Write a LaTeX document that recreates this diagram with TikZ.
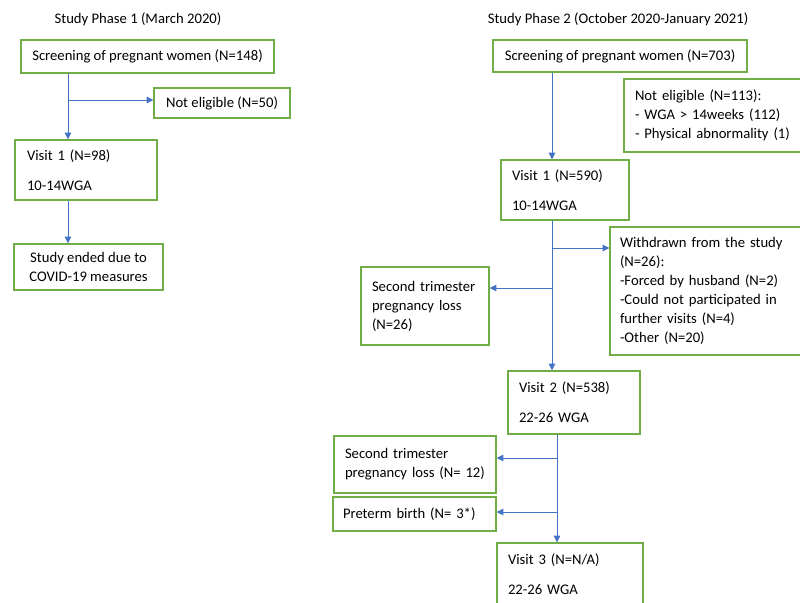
\documentclass[tikz,border=0pt]{standalone}
\usepackage{fontspec}
\setmainfont{Carlito}
\usepackage{xcolor}
\usetikzlibrary{arrows.meta}
\definecolor{boxgreen}{HTML}{70AD47}
\definecolor{flowblue}{HTML}{4472C4}

\begin{document}
\begin{tikzpicture}[
    x=0.75pt, y=-0.75pt,
    font=\fontsize{11}{14.25}\selectfont,
    box/.style={rectangle, draw=boxgreen, line width=1.1pt, inner sep=0pt, align=center},
    lbox/.style={box, align=left, inner xsep=8.25pt},
    arrow/.style={-{Triangle[width=5pt,length=5pt]}, draw=flowblue, fill=flowblue, line width=0.7pt},
    title/.style={inner sep=0pt}
  ]
  \clip (0,0) rectangle (800,603);
  % Phase 1
  \node[title] (t1) at (138,19) {Study Phase 1 (March 2020)};
  \node[box, minimum width=189.75pt, minimum height=24.75pt] (scr1) at (147.5,56.5) {Screening of pregnant women (N=148)};
  \node[box, minimum width=102pt, minimum height=22.5pt] (ne1) at (222,103) {Not eligible (N=50)};
  \node[lbox, text width=88.5pt, minimum height=45pt, inner xsep=9pt] (v1) at (86,170) {Visit 1 (N=98)\\[8.25pt]10-14WGA};
  \node[box, minimum width=111.75pt, minimum height=34.5pt] (end1) at (88.5,267) {Study ended due to\\COVID-19 measures};
  \coordinate (tk1) at (68,100);
  \draw[arrow] (scr1.south -| tk1) -- (v1.north -| tk1);
  \draw[arrow] (tk1) -- (tk1 -| ne1.west);
  \draw[arrow] (v1.south -| tk1) -- (end1.north -| tk1);
  % Phase 2
  \node[title] (t2) at (618,19) {Study Phase 2 (October 2020-January 2021)};
  \node[box, minimum width=190.5pt, minimum height=24pt] (scr2) at (620,56) {Screening of pregnant women (N=703)};
  \node[lbox, text width=120pt, minimum height=54.75pt] (ne2) at (715,115.5) {Not eligible (N=113):\\- WGA > 14weeks (112)\\- Physical abnormality (1)};
  \node[lbox, text width=79.5pt, minimum height=45pt] (v2a) at (565,190) {Visit 1 (N=590)\\[8.25pt]10-14WGA};
  \node[lbox, text width=135pt, minimum height=96pt, inner xsep=7.5pt] (wd) at (710,291) {Withdrawn from the study\\(N=26):\\-Forced by husband (N=2)\\-Could not participated in\\further visits (N=4)\\-Other (N=20)};
  \node[lbox, text width=79.5pt, minimum height=58.5pt] (sl1) at (425,306) {Second trimester\\pregnancy loss\\(N=26)};
  \node[lbox, text width=82.5pt, minimum height=47.25pt] (v2) at (574,402.5) {Visit 2 (N=538)\\[8.25pt]22-26 WGA};
  \node[lbox, text width=105pt, minimum height=42.75pt] (sl2) at (415,464.5) {Second trimester\\pregnancy loss (N= 12)};
  \node[lbox, text width=107.25pt, minimum height=25.5pt, inner xsep=7.5pt] (pb) at (414.5,514) {Preterm birth (N= 3*)};
  \node[lbox, text width=93pt, minimum height=47.25pt] (v3) at (570,574.5) {Visit 3 (N=N/A)\\[8.25pt]22-26 WGA};
  \coordinate (tk2) at (552,248);
  \coordinate (tk3) at (552,288);
  \coordinate (tk4) at (557,458);
  \coordinate (tk5) at (557,512);
  \draw[arrow] (scr2.south -| tk2) -- (v2a.north -| tk2);
  \draw[arrow] (v2a.south -| tk2) -- (v2.north -| tk2);
  \draw[arrow] (tk2) -- (tk2 -| wd.west);
  \draw[arrow] (tk3) -- (tk3 -| sl1.east);
  \draw[arrow] (v2.south -| tk4) -- (v3.north -| tk4);
  \draw[arrow] (tk4) -- (tk4 -| sl2.east);
  \draw[arrow] (tk5) -- (tk5 -| pb.east);
\end{tikzpicture}
\end{document}
